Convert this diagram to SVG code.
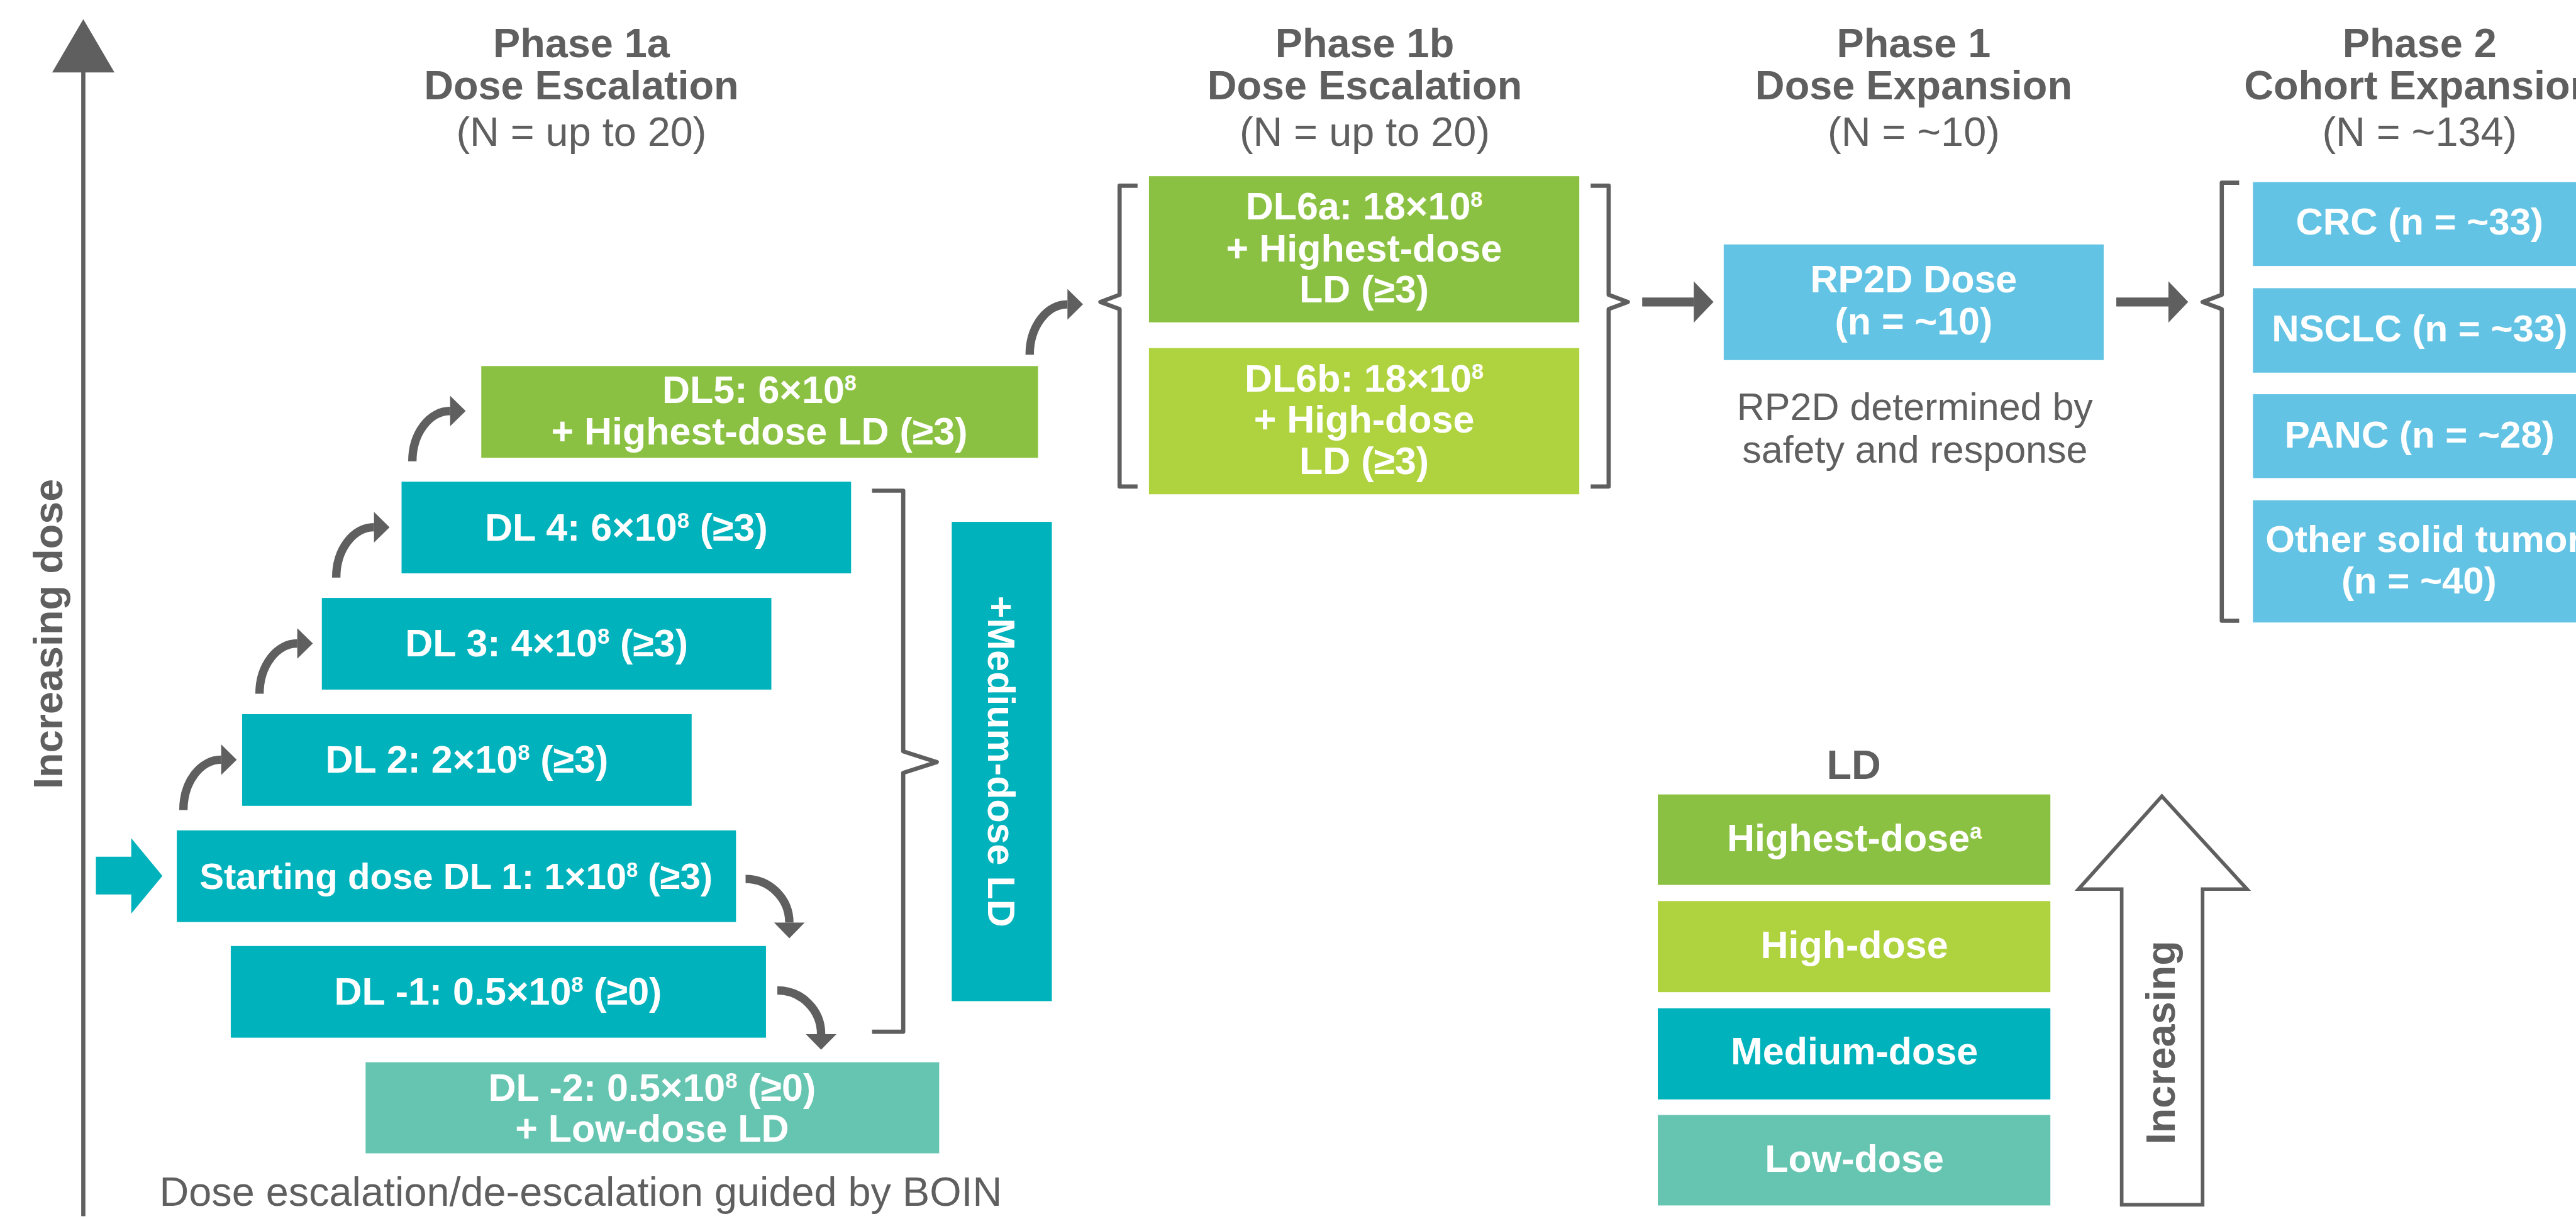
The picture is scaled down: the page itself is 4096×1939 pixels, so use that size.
<svg xmlns="http://www.w3.org/2000/svg" width="4096" height="1939" viewBox="0 0 4096 1939">
  <defs>
    <style>
      text { font-family: "Liberation Sans", Arial, sans-serif; }
      .hd { font-weight: bold; font-size: 68px; fill: #5f5f5f; text-anchor: middle; }
      .sub { font-size: 68px; fill: #5f5f5f; text-anchor: middle; }
      .note { font-size: 64px; fill: #5f5f5f; text-anchor: middle; }
      .bx { font-weight: bold; font-size: 64px; fill: #ffffff; text-anchor: middle; }
      .bx63 { font-weight: bold; font-size: 63px; fill: #ffffff; text-anchor: middle; }
      .sup { font-size: 36px; }
      .teal { fill: #00b2bb; }
      .green { fill: #8bc142; }
      .lime { fill: #afd23f; }
      .mint { fill: #66c5b0; }
      .sky { fill: #63c3e4; }
      .brace { fill: none; stroke: #5f5f5f; stroke-width: 7; stroke-linejoin: round; }
      .shaft { fill: none; stroke: #5f5f5f; stroke-width: 14; }
      .bar { fill: none; stroke: #5f5f5f; stroke-width: 15; }
      .ink { fill: #5f5f5f; }
    </style>
    <marker id="headSmall" markerUnits="userSpaceOnUse" viewBox="0 -26 26 52" refX="0" refY="0" markerWidth="26" markerHeight="52" orient="auto" overflow="visible">
      <path d="M0,-25.5 L26,0 L0,25.5 Z" fill="#5f5f5f"/>
    </marker>
    <marker id="headLarge" markerUnits="userSpaceOnUse" viewBox="0 -35 34 70" refX="0" refY="0" markerWidth="34" markerHeight="70" orient="auto" overflow="visible">
      <path d="M0,-34.5 L33,0 L0,34.5 Z" fill="#5f5f5f"/>
    </marker>
  </defs>

  <rect width="4096" height="1939" fill="#ffffff"/>

  <g transform="scale(0.953)">

    <!-- phase headings -->
    <g id="heading-phase1a">
      <text class="hd" x="970" y="96">Phase 1a</text>
      <text class="hd" x="970" y="166">Dose Escalation</text>
      <text class="sub" x="970" y="243">(N = up to 20)</text>
    </g>
    <g id="heading-phase1b">
      <text class="hd" x="2277" y="96">Phase 1b</text>
      <text class="hd" x="2277" y="166">Dose Escalation</text>
      <text class="sub" x="2277" y="243">(N = up to 20)</text>
    </g>
    <g id="heading-phase1">
      <text class="hd" x="3193" y="96">Phase 1</text>
      <text class="hd" x="3193" y="166">Dose Expansion</text>
      <text class="sub" x="3193" y="243">(N = ~10)</text>
    </g>
    <g id="heading-phase2">
      <text class="hd" x="4037" y="96">Phase 2</text>
      <text class="hd" x="4037" y="166">Cohort Expansion</text>
      <text class="sub" x="4037" y="243">(N = ~134)</text>
    </g>

    <!-- dose axis -->
    <g id="dose-axis">
      <path d="M139,2030 V115" fill="none" stroke="#5f5f5f" stroke-width="7"/>
      <polygon class="ink" points="139,32 191,121 87,121"/>
      <text class="hd" transform="translate(104,1058) rotate(-90)">Increasing dose</text>
    </g>

    <!-- connectors -->
    <g id="connectors">
      <!-- entry arrow into the starting dose -->
      <polygon class="teal" points="160,1430 219,1430 219,1399 271,1462 219,1525 219,1493 160,1493"/>
      <!-- escalation steps -->
      <path class="shaft" d="M306,1352 A63,84 0 0 1 369,1268" marker-end="url(#headSmall)"/>
      <path class="shaft" d="M433,1158 A63,84 0 0 1 496,1074" marker-end="url(#headSmall)"/>
      <path class="shaft" d="M561,964 A63,84 0 0 1 624,880" marker-end="url(#headSmall)"/>
      <path class="shaft" d="M688,770 A63,84 0 0 1 751,686" marker-end="url(#headSmall)"/>
      <path class="shaft" d="M1718,592 A63,84 0 0 1 1781,508" marker-end="url(#headSmall)"/>
      <!-- de-escalation steps -->
      <path class="shaft" d="M1244,1467 A73,73 0 0 1 1317,1540" marker-end="url(#headSmall)"/>
      <path class="shaft" d="M1297,1653 A73,73 0 0 1 1370,1726" marker-end="url(#headSmall)"/>
      <!-- phase transitions -->
      <path class="bar" d="M2740,504 H2826" marker-end="url(#headLarge)"/>
      <path class="bar" d="M3531,504 H3618" marker-end="url(#headLarge)"/>
      <!-- braces -->
      <path class="brace" d="M1455,819 H1507 V1254 L1563,1272 L1507,1290 V1722 H1455"/>
      <path class="brace" d="M1898,310 H1868 V492 L1836,504 L1868,516 V812 H1898"/>
      <path class="brace" d="M2654,310 H2684 V492 L2716,504 L2684,516 V812 H2654"/>
      <path class="brace" d="M3736,305 H3707 V492 L3675,504 L3707,516 V1036 H3736"/>
    </g>

    <!-- phase 1a dose levels -->
    <g id="node-dl5">
      <rect class="green" x="803" y="611" width="929" height="153"/>
      <text class="bx" x="1267" y="673">DL5: 6×10<tspan class="sup" dy="-21">8</tspan></text>
      <text class="bx" x="1267" y="742">+ Highest-dose LD (≥3)</text>
    </g>
    <g id="node-dl4">
      <rect class="teal" x="670" y="804" width="750" height="153"/>
      <text class="bx" x="1045" y="902">DL 4: 6×10<tspan class="sup" dy="-21">8</tspan><tspan dy="21"> (≥3)</tspan></text>
    </g>
    <g id="node-dl3">
      <rect class="teal" x="537" y="998" width="750" height="153"/>
      <text class="bx" x="912" y="1096">DL 3: 4×10<tspan class="sup" dy="-21">8</tspan><tspan dy="21"> (≥3)</tspan></text>
    </g>
    <g id="node-dl2">
      <rect class="teal" x="404" y="1192" width="750" height="153"/>
      <text class="bx" x="779" y="1290">DL 2: 2×10<tspan class="sup" dy="-21">8</tspan><tspan dy="21"> (≥3)</tspan></text>
    </g>
    <g id="node-dl1">
      <rect class="teal" x="295" y="1386" width="933" height="153"/>
      <text class="bx" x="761" y="1484" style="font-size:61px">Starting dose DL 1: 1×10<tspan style="font-size:34px" dy="-20">8</tspan><tspan dy="20"> (≥3)</tspan></text>
    </g>
    <g id="node-dl-1">
      <rect class="teal" x="385" y="1579" width="893" height="153"/>
      <text class="bx" x="831" y="1677">DL -1: 0.5×10<tspan class="sup" dy="-21">8</tspan><tspan dy="21"> (≥0)</tspan></text>
    </g>
    <g id="node-dl-2">
      <rect class="mint" x="610" y="1773" width="957" height="152"/>
      <text class="bx" x="1088" y="1837">DL -2: 0.5×10<tspan class="sup" dy="-21">8</tspan><tspan dy="21"> (≥0)</tspan></text>
      <text class="bx" x="1088" y="1906">+ Low-dose LD</text>
    </g>
    <g id="node-medium-ld">
      <rect class="teal" x="1588" y="871" width="167" height="800"/>
      <text class="bx" transform="translate(1649,1271) rotate(90)">+Medium-dose LD</text>
    </g>
    <g id="note-boin">
      <text class="sub" x="969" y="2013">Dose escalation/de-escalation guided by BOIN</text>
    </g>

    <!-- phase 1b dose levels -->
    <g id="node-dl6a">
      <rect class="green" x="1917" y="294" width="718" height="244"/>
      <text class="bx" x="2276" y="366">DL6a: 18×10<tspan class="sup" dy="-21">8</tspan></text>
      <text class="bx" x="2276" y="436">+ Highest-dose</text>
      <text class="bx" x="2276" y="505">LD (≥3)</text>
    </g>
    <g id="node-dl6b">
      <rect class="lime" x="1917" y="581" width="718" height="244"/>
      <text class="bx" x="2276" y="654">DL6b: 18×10<tspan class="sup" dy="-21">8</tspan></text>
      <text class="bx" x="2276" y="722">+ High-dose</text>
      <text class="bx" x="2276" y="791">LD (≥3)</text>
    </g>

    <!-- phase 1 expansion -->
    <g id="node-rp2d">
      <rect class="sky" x="2876" y="408" width="634" height="193"/>
      <text class="bx" x="3193" y="488">RP2D Dose</text>
      <text class="bx" x="3193" y="558">(n = ~10)</text>
    </g>
    <g id="note-rp2d">
      <text class="note" x="3195" y="701">RP2D determined by</text>
      <text class="note" x="3195" y="772">safety and response</text>
    </g>

    <!-- phase 2 cohorts -->
    <g id="node-crc">
      <rect class="sky" x="3759" y="304" width="600" height="140"/>
      <text class="bx63" x="4037" y="391">CRC (n = ~33)</text>
    </g>
    <g id="node-nsclc">
      <rect class="sky" x="3759" y="481" width="600" height="141"/>
      <text class="bx63" x="4037" y="570">NSCLC (n = ~33)</text>
    </g>
    <g id="node-panc">
      <rect class="sky" x="3759" y="658" width="600" height="140"/>
      <text class="bx63" x="4037" y="747">PANC (n = ~28)</text>
    </g>
    <g id="node-other">
      <rect class="sky" x="3759" y="835" width="600" height="204"/>
      <text class="bx63" x="3780" y="921" style="text-anchor:start">Other solid tumors</text>
      <text class="bx63" x="4036" y="991">(n = ~40)</text>
    </g>

    <!-- lymphodepletion legend -->
    <g id="legend-ld">
      <text class="hd" x="3093" y="1300">LD</text>
      <rect class="green" x="2766" y="1326" width="655" height="151"/>
      <text class="bx" x="3094" y="1421">Highest-dose<tspan class="sup" dy="-21">a</tspan></text>
      <rect class="lime" x="2766" y="1504" width="655" height="152"/>
      <text class="bx" x="3094" y="1599">High-dose</text>
      <rect class="teal" x="2766" y="1683" width="655" height="152"/>
      <text class="bx" x="3094" y="1776">Medium-dose</text>
      <rect class="mint" x="2766" y="1861" width="655" height="151"/>
      <text class="bx" x="3094" y="1956">Low-dose</text>
    </g>
    <g id="legend-arrow">
      <polygon points="3607,1329 3749,1484 3675,1484 3675,2011 3540,2011 3540,1484 3468,1484" fill="#ffffff" stroke="#5f5f5f" stroke-width="6"/>
      <text class="hd" transform="translate(3629,1740) rotate(-90)">Increasing</text>
    </g>
  </g>
</svg>
